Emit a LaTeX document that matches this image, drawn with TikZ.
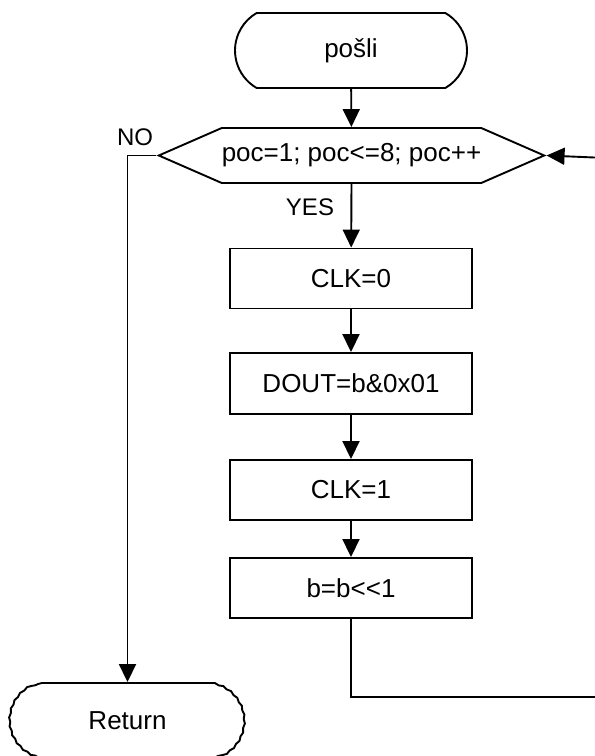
\documentclass[tikz,border=0pt]{standalone}
\usepackage{fontspec}
\setmainfont{Liberation Sans}
\usetikzlibrary{arrows.meta,shapes.misc,shapes.symbols,decorations.pathmorphing}

\begin{document}
\begin{tikzpicture}[x=1pt,y=1pt,
  line width=1.9pt,
  every node/.style={font=\fontsize{26}{30}\selectfont, inner sep=0pt},
  terminal/.style={draw, rounded rectangle, rounded rectangle arc length=120,
    minimum width=232pt, minimum height=75pt},
  loophead/.style={draw, signal, signal to=west and east, signal pointer angle=47.2,
    minimum width=383pt, minimum height=55pt},
  action/.style={draw, rectangle, minimum width=242pt, minimum height=60pt},
  flow/.style={-{Triangle[length=18pt,width=17pt]}},
  wavy/.style={decorate, decoration={snake, amplitude=0.6pt, segment length=9pt}},
  lbl/.style={font=\fontsize{24}{28}\selectfont}
]
\clip (0,0) rectangle (595,756);

% blocks
\node[terminal] (start) at (351,705.5) {pošli};
\node[loophead] (loop) at (351.5,600.5) {poc=1; poc<=8; poc++};
\node[action] (clk0) at (351,477.5) {CLK=0};
\node[action, minimum height=61pt] (dout) at (351,372.5) {DOUT=b\&0x01};
\node[action] (clk1) at (351,266) {CLK=1};
\node[action] (shift) at (351,168) {b=b<{}<1};
\node[minimum width=229pt, minimum height=75pt] (ret) at (127.5,35.5) {Return};

% outline of the end terminal, with slightly ragged ends
\draw (42,73) -- (212,73);
\draw (212,-2) -- (42,-2);
\draw[wavy] (212,73) arc[start angle=77.6, end angle=-77.6, radius=38.4];
\draw[wavy] (42,-2) arc[start angle=257.6, end angle=102.4, radius=38.4];

% branch labels
\node[lbl] (no) at (135,619) {NO};
\node[lbl] (yes) at (310,549) {YES};

% connectors
\draw[flow] (start) -- (loop);
\draw[flow] (loop.south) -- (clk0);
\draw[flow] (clk0) -- (dout);
\draw[flow] (dout) -- (clk1);
\draw[flow] (clk1) -- (shift);
\draw[flow] (loop.west) -| (ret.north);

% loop back to the header
\coordinate (back1) at (351,59);
\coordinate (back2) at (606,59);
\coordinate (back3) at (606,598);
\draw (shift.south) -- (back1) -- (back2) -- (back3);
\draw[flow] (back3) -- (loop.east);
\end{tikzpicture}
\end{document}
